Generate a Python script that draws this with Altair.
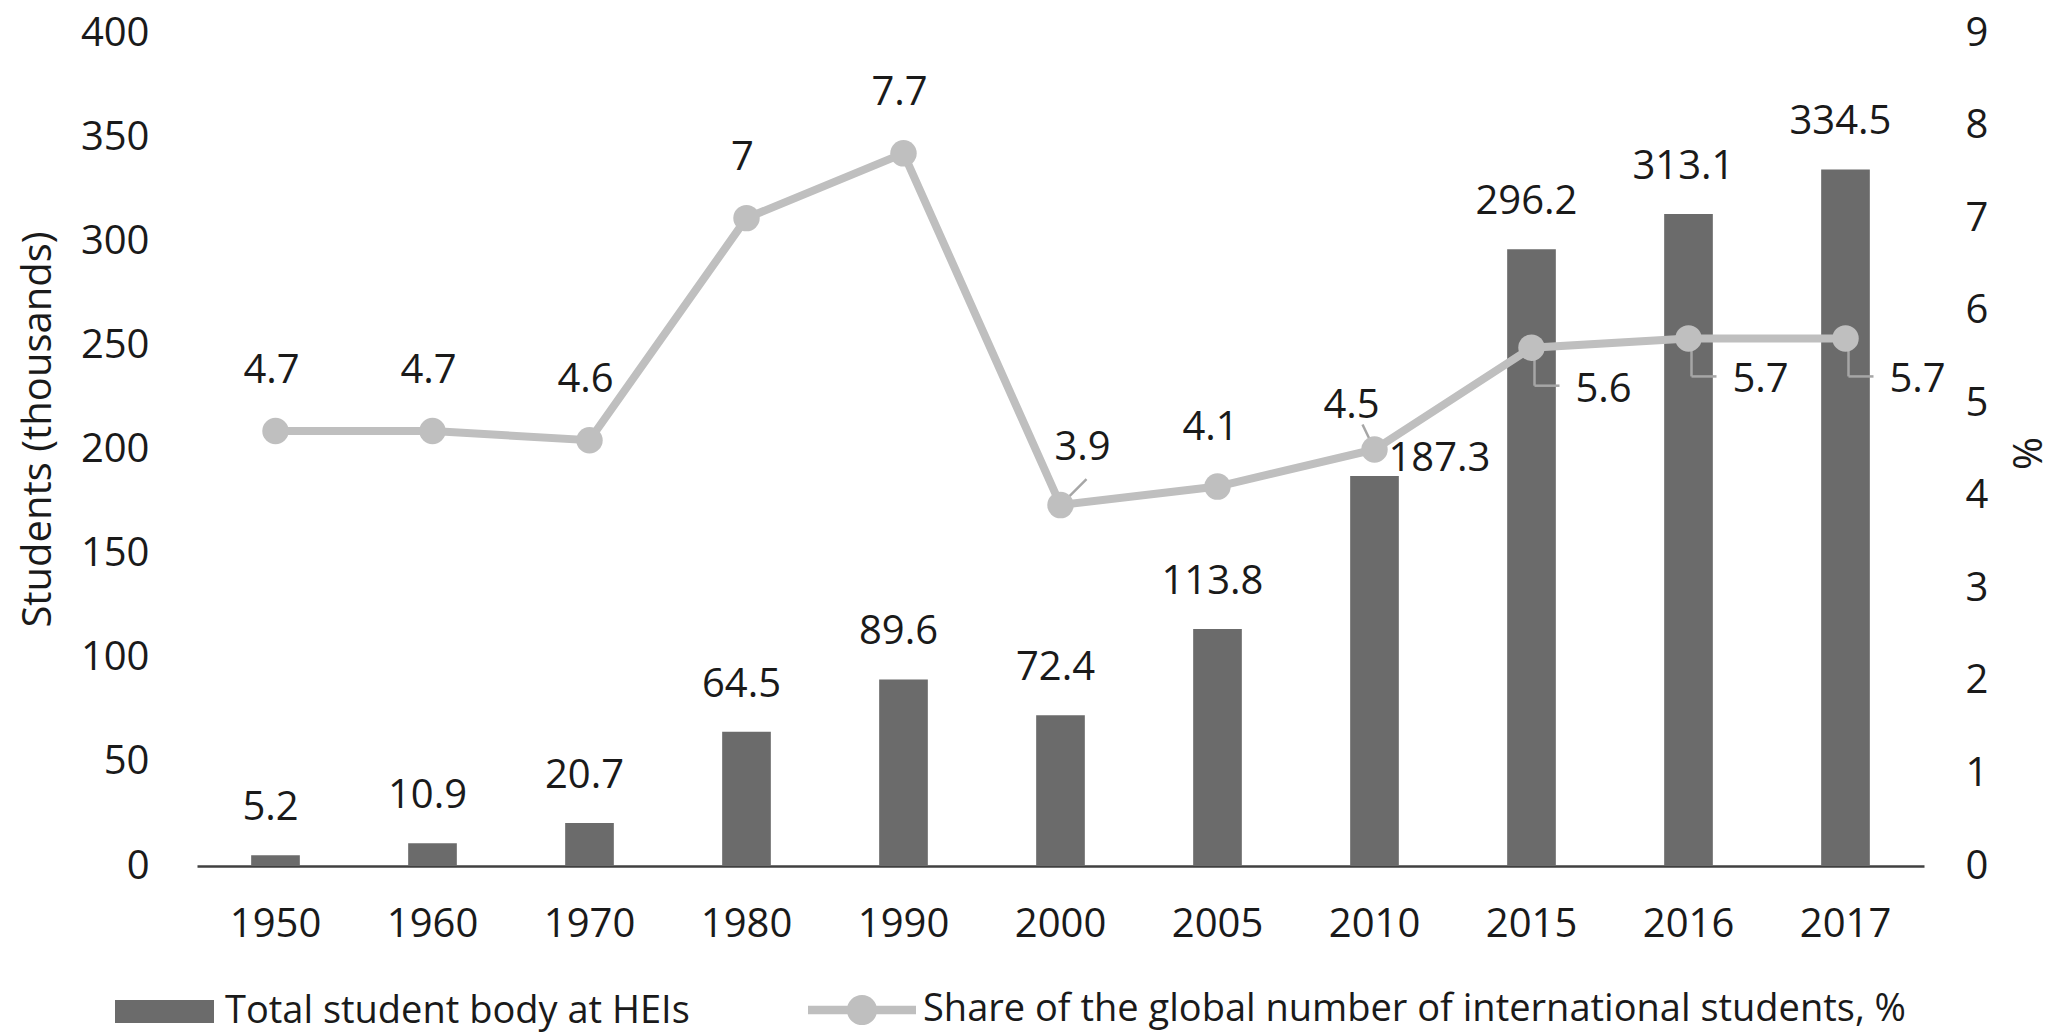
import altair as alt
import pandas as pd

years = ["1950", "1960", "1970", "1980", "1990", "2000", "2005", "2010", "2015", "2016", "2017"]
students = [5.2, 10.9, 20.7, 64.5, 89.6, 72.4, 113.8, 187.3, 296.2, 313.1, 334.5]
share = [4.7, 4.7, 4.6, 7.0, 7.7, 3.9, 4.1, 4.5, 5.6, 5.7, 5.7]
series_bar = "Total student body at HEIs"
series_line = "Share of the global number of international students, %"

df = pd.DataFrame({"year": years, "students": students, "share": share})
df["sb"] = series_bar
df["sl"] = series_line
df["share_lbl"] = [f"{v:g}" for v in share]
df["stud_lbl"] = [f"{v:g}" for v in students]

FONT = "Open Sans"
TXT = "#1a1a1a"
BAR = "#6b6b6b"
LINE = "#bfbfbf"
LEAD = "#a6a6a6"

W, H = 1727, 833

xaxis = alt.Axis(title=None, labelAngle=0, labelFont=FONT, labelFontSize=40,
                 labelColor=TXT, labelPadding=38, ticks=False,
                 domainColor="#404040", domainWidth=2.5, grid=False)
xscale = alt.Scale(paddingInner=0.69, paddingOuter=0.345)
xenc = alt.X("year:N", sort=years, scale=xscale, axis=xaxis)

yL = alt.Scale(domain=[0, 400], nice=False)
yR = alt.Scale(domain=[0, 9], nice=False)

base = alt.Chart(df)

bars = base.mark_bar().encode(
    x=xenc,
    y=alt.Y("students:Q", scale=yL,
            axis=alt.Axis(values=list(range(0, 401, 50)), title="Students (thousands)",
                          labelFont=FONT, labelFontSize=40, labelColor=TXT, labelPadding=48,
                          ticks=False, domain=False, grid=False,
                          titleFont=FONT, titleFontSize=40, titleColor=TXT,
                          titleFontWeight="normal", titleAngle=270,
                          titleX=-159, titleY=396, titleAlign="center",
                          titleBaseline="middle")),
    fill=alt.Fill("sb:N", scale=alt.Scale(domain=[series_bar], range=[BAR]),
                  legend=alt.Legend(title=None, orient="none", legendX=-82, legendY=929,
                                    padding=0, symbolType="M-1,-0.23H1V0.23H-1Z",
                                    symbolSize=9800, symbolStrokeWidth=0,
                                    labelFont=FONT, labelFontSize=38, labelColor=TXT,
                                    labelOffset=11, labelLimit=2000)),
)


def btxt(filt, dx, dy):
    return base.mark_text(font=FONT, fontSize=40, color=TXT, baseline="middle",
                          dx=dx, dy=dy).encode(
        x=xenc, y=alt.Y("students:Q", scale=yL, axis=None), text="stud_lbl:N"
    ).transform_filter(filt)


bar_txt = btxt(alt.datum.year != "2010", -5, -47)
bar_txt2 = btxt(alt.datum.year == "2010", 65, -17)

line = base.mark_line(color=LINE, strokeWidth=8).encode(
    x=xenc,
    y=alt.Y("share:Q", scale=yR,
            axis=alt.Axis(orient="right", values=list(range(0, 10)), title="%",
                          labelFont=FONT, labelFontSize=40, labelColor=TXT, labelPadding=41,
                          ticks=False, domain=False, grid=False,
                          titleFont=FONT, titleFontSize=40, titleColor=TXT,
                          titleFontWeight="normal", titleAngle=90,
                          titleX=100, titleY=420, titleAlign="center",
                          titleBaseline="middle")),
)

pts = base.mark_circle(size=700, opacity=1).encode(
    x=xenc, y=alt.Y("share:Q", scale=yR, axis=None),
    color=alt.Color("sl:N", scale=alt.Scale(domain=[series_line], range=[LINE]),
                    legend=alt.Legend(title=None, orient="none", legendX=611, legendY=923,
                                      padding=0,
                                      symbolType="M-1,-0.08H1V0.08H-1Z M0,-0.28A0.28,0.28 0 1 1 0,0.28A0.28,0.28 0 1 1 0,-0.28Z",
                                      symbolSize=11664, symbolStrokeWidth=0, symbolOpacity=1,
                                      labelFont=FONT, labelFontSize=38, labelColor=TXT,
                                      labelOffset=7, labelLimit=2000)),
)


def ltxt(filt, dx, dy):
    return base.mark_text(font=FONT, fontSize=40, color=TXT, baseline="middle",
                          dx=dx, dy=dy).encode(
        x=xenc, y=alt.Y("share:Q", scale=yR, axis=None), text="share_lbl:N"
    ).transform_filter(filt)


std_years = ["1950", "1960", "1970", "1980", "1990"]
late_years = ["2015", "2016", "2017"]
t_std = ltxt(alt.FieldOneOfPredicate(field="year", oneOf=std_years), -4, -60)
t_2000 = ltxt(alt.datum.year == "2000", 22, -57)
t_2005 = ltxt(alt.datum.year == "2005", -7, -59)
t_2010 = ltxt(alt.datum.year == "2010", -23, -44)
t_late = ltxt(alt.FieldOneOfPredicate(field="year", oneOf=late_years), 72, 42)


def lead(filt, xo, x2o, yo, y2o):
    return base.mark_rule(color=LEAD, strokeWidth=2.5, xOffset=xo, x2Offset=x2o,
                          yOffset=yo, y2Offset=y2o).encode(
        x=xenc, x2="year:N",
        y=alt.Y("share:Q", scale=yR, axis=None), y2="share:Q"
    ).transform_filter(filt)


late = alt.FieldOneOfPredicate(field="year", oneOf=late_years)
l_2000 = lead(alt.datum.year == "2000", 3, 26, -3, -26)
l_2010 = lead(alt.datum.year == "2010", -12, 0, -25, 0)
l_v = lead(late, 3, 3, 0, 38)
l_h = lead(late, 3, 28, 38, 38)

chart = alt.layer(
    bars, bar_txt, bar_txt2,
    line, l_2000, l_2010, l_v, l_h, pts, t_std, t_2000, t_2005, t_2010, t_late
).resolve_scale(y="independent").properties(
    width=W, height=H,
    autosize=alt.AutoSizeParams(type="none"),
    padding={"left": 197, "top": 33, "right": 130, "bottom": 169},
    background="white",
).configure_view(stroke=None)

chart.save("out.html", embed_options={"renderer": "svg", "actions": False})
